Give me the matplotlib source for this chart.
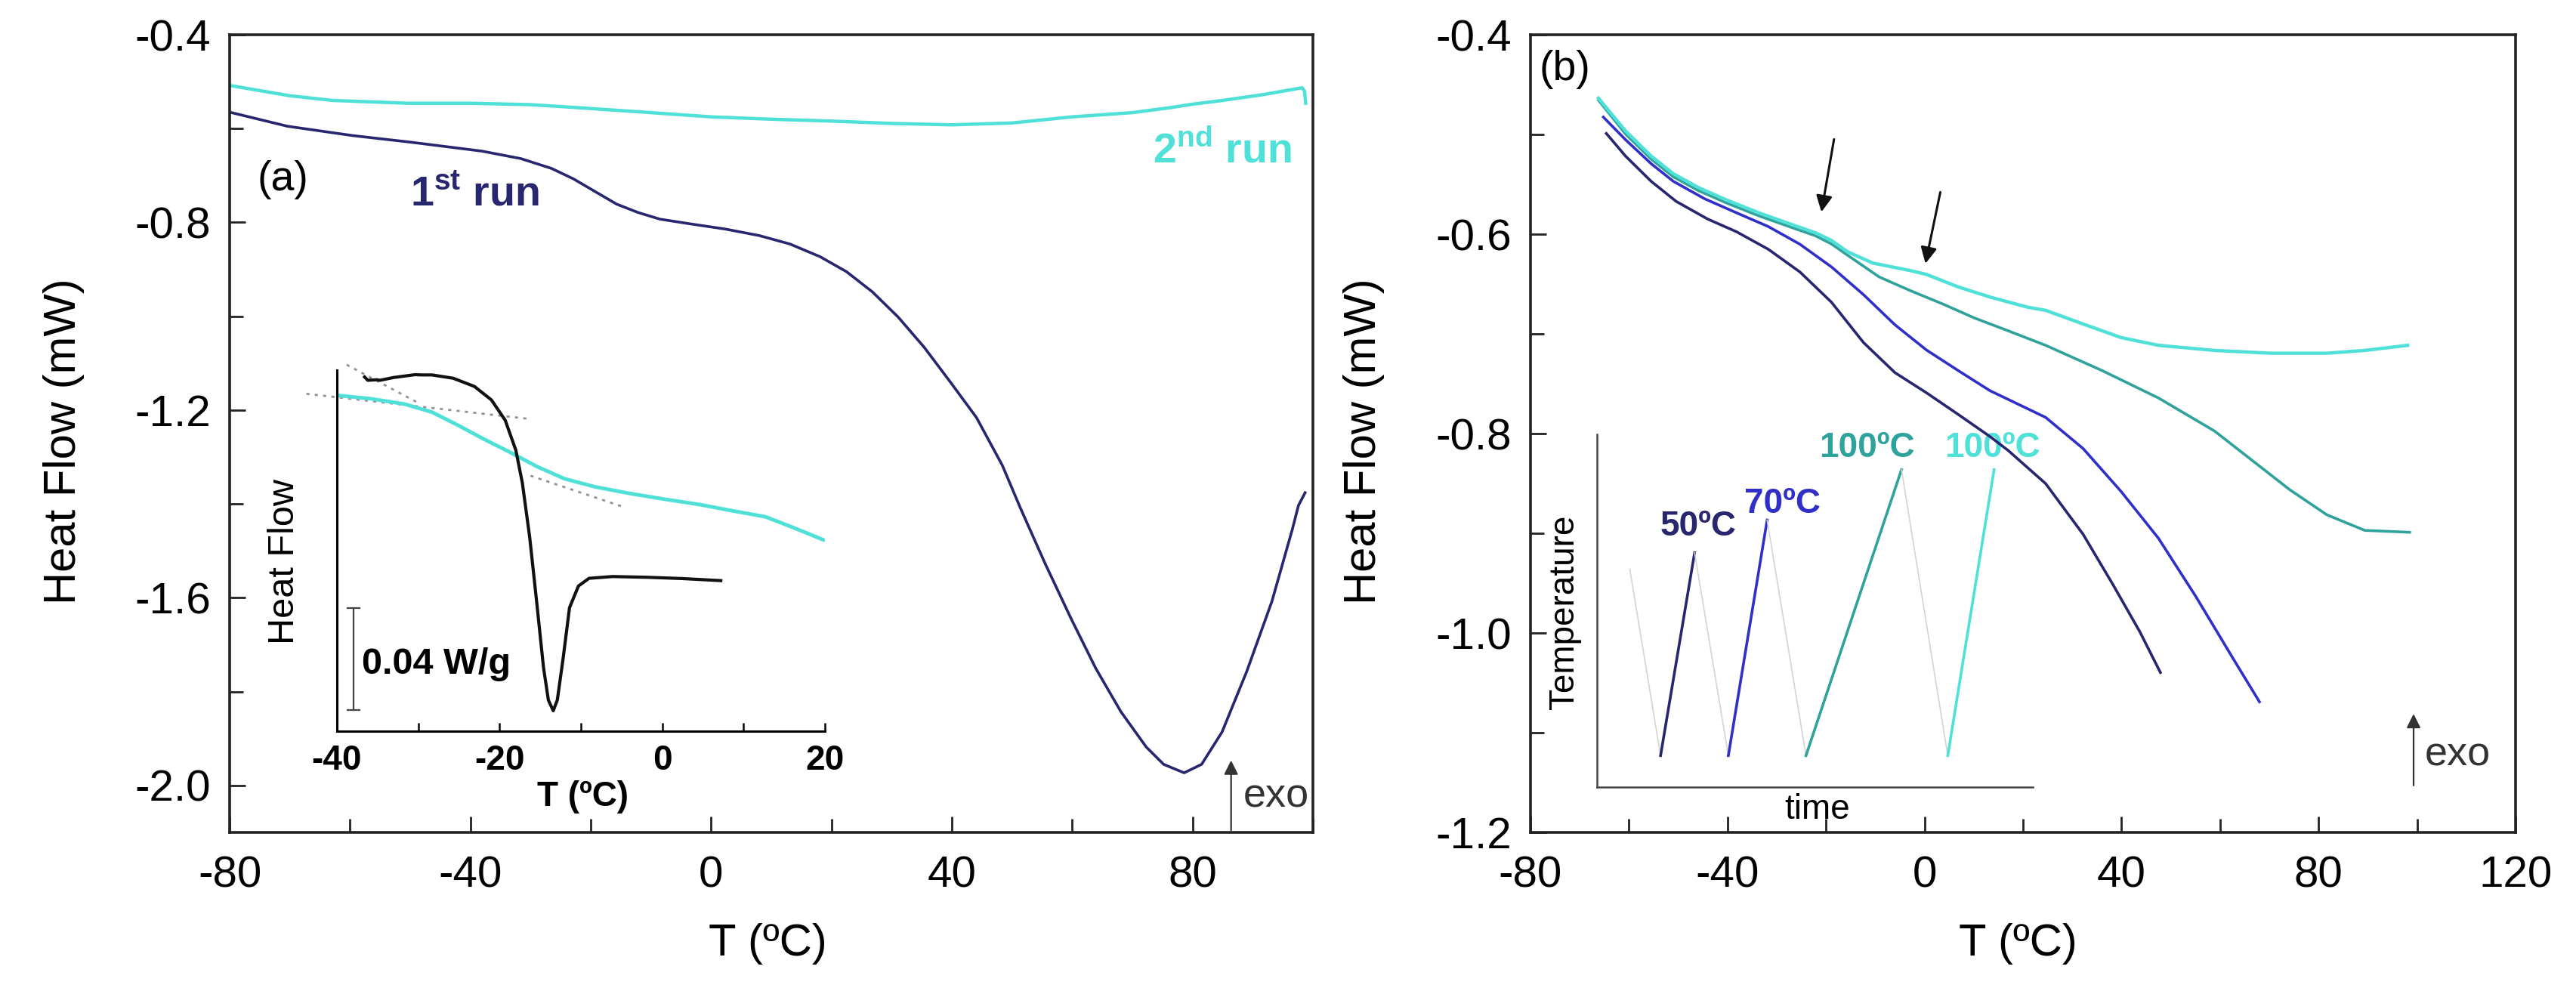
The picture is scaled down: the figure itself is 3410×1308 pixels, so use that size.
import numpy as np
import matplotlib
matplotlib.use("Agg")
import matplotlib.pyplot as plt
from matplotlib.ticker import MultipleLocator, FormatStrFormatter

plt.rcParams['font.family'] = ['Liberation Sans', 'DejaVu Sans']
plt.rcParams['mathtext.fontset'] = 'custom'
plt.rcParams['mathtext.rm'] = 'Liberation Sans'
plt.rcParams['mathtext.bf'] = 'Liberation Sans:bold'
plt.rcParams['axes.unicode_minus'] = False

# colours
NAVY = '#27266f'
BLUE = '#3030c8'
TEAL = '#2fa39b'
CYAN = '#4fe0d8'

# ---- panel (a): 1st / 2nd run ----
run1_T = [-80, -70.4, -59.5, -49.9, -38.1, -31.6, -26.5, -22.9, -19.3, -15.7, -12.1, -8.5,
          -3.5, 2.3, 8.0, 13.1, 18.1, 22.5, 26.8, 31.1, 35.4, 39.8, 44.1, 48.4, 51.4, 55.5,
          59.8, 63.9, 68.1, 72.3, 75.2, 78.6, 81.5, 84.9, 89, 93.2, 96.6, 97.6, 98.7]
run1_hf = [-0.565, -0.595, -0.615, -0.629, -0.648, -0.664, -0.685, -0.707, -0.734, -0.761,
           -0.779, -0.793, -0.803, -0.814, -0.828, -0.846, -0.873, -0.905, -0.948, -1.002,
           -1.066, -1.141, -1.216, -1.318, -1.409, -1.527, -1.644, -1.75, -1.843, -1.918,
           -1.955, -1.973, -1.955, -1.886, -1.757, -1.607, -1.453, -1.403, -1.376]

run2_T = [-80, -70, -62.9, -50.4, -40, -30, -22.6, -10, 0, 10, 20, 30, 40, 50, 60, 70, 76.5,
          80, 85, 92, 98.2, 98.6, 98.8]
run2_hf = [-0.508, -0.53, -0.540, -0.546, -0.546, -0.549, -0.555, -0.566, -0.575, -0.58,
           -0.584, -0.589, -0.592, -0.588, -0.575, -0.566, -0.555, -0.548, -0.54, -0.527,
           -0.513, -0.52, -0.546]

# inset (a): heat flow in W/g (arbitrary offset)
ins_black_T = [-36.6, -36.2, -35.1, -34.7, -33.0, -30.4, -29.5, -28.3, -25.7, -23.1, -21.0,
               -19.3, -18.0, -17.2, -16.3, -15.4, -14.6, -14.0, -13.4, -12.9, -12.2, -11.4,
               -10.3, -9.0, -6.1, -1.8, 2.5, 7.2]
ins_black_hf = [0.1388, 0.1375, 0.1377, 0.1375, 0.1386, 0.1397, 0.1396, 0.1396, 0.1383,
                0.1351, 0.1298, 0.1218, 0.1101, 0.0973, 0.0761, 0.0495, 0.0250, 0.0122,
                0.0080, 0.0122, 0.0282, 0.0484, 0.0569, 0.0599, 0.0606, 0.0603, 0.0598, 0.0590]
ins_cyan_T = [-40, -35.9, -31.7, -28.3, -25.3, -21.9, -18.9, -15.4, -12.0, -8.2, -3.9, 0.3,
              4.6, 8.9, 12.7, 16.1, 19.8]
ins_cyan_hf = [0.1316, 0.1303, 0.1282, 0.1250, 0.1202, 0.1144, 0.1096, 0.1037, 0.0989,
               0.0957, 0.0931, 0.0909, 0.0888, 0.0862, 0.0840, 0.0798, 0.0750]
tangent_T = [[-38.8, -29.8], [-43.75, -16.47], [-16.2, -4.7]]
tangent_hf = [[0.1436, 0.1283], [0.1322, 0.1224], [0.1001, 0.0878]]

# ---- panel (b): heating to 50, 70, 100, 100 ºC ----
b50_T = [-64.6, -60.7, -55.5, -50.4, -44.0, -38.2, -31.7, -25.3, -18.9, -12.4, -6.0, 0.4,
         6.9, 13.3, 17.0, 24.6, 32.2, 38.3, 43.7, 47.9]
b50_hf = [-0.499, -0.5217, -0.547, -0.5672, -0.5849, -0.5975, -0.6152, -0.6379, -0.6682,
          -0.7086, -0.7389, -0.7591, -0.781, -0.803, -0.817, -0.8502, -0.901, -0.9518,
          -0.9986, -1.0397]
b70_T = [-65.2, -60.7, -55.5, -51.0, -44.6, -38.2, -31.7, -25.3, -18.9, -12.4, -6.0, 0.4,
         6.9, 13.3, 20.9, 24.6, 32.2, 39.9, 47.5, 55.1, 62.7, 68.0]
b70_hf = [-0.4826, -0.5053, -0.5293, -0.547, -0.5646, -0.5785, -0.5924, -0.6101, -0.6328,
          -0.6606, -0.6909, -0.7162, -0.737, -0.757, -0.775, -0.7838, -0.815, -0.858,
          -0.905, -0.9635, -1.026, -1.069]
b100a_T = [-66.2, -60.7, -55.5, -51.0, -45.9, -40.1, -33.7, -27.2, -22.1, -18.9, -15.6,
           -9.2, -2.8, 3.7, 10.1, 16.5, 24.6, 36.1, 47.5, 58.9, 66.5, 74.1, 81.7, 89.4, 98.5]
b100a_hf = [-0.4656, -0.4995, -0.5247, -0.5424, -0.5563, -0.5689, -0.5815, -0.5929, -0.6017,
            -0.6098, -0.6212, -0.6429, -0.6568, -0.670, -0.684, -0.696, -0.7115, -0.7369,
            -0.7643, -0.7975, -0.8268, -0.8561, -0.8815, -0.8971, -0.899]
b100b_T = [-66.2, -60.7, -55.5, -51.0, -45.9, -40.1, -33.7, -27.2, -22.1, -18.9, -15.6,
           -10.5, -2.8, 0.4, 6.9, 13.3, 20.9, 24.6, 32.2, 39.9, 47.5, 58.9, 70.3, 81.7,
           89.4, 98.1]
b100b_hf = [-0.4636, -0.4965, -0.5217, -0.5394, -0.5533, -0.5659, -0.5785, -0.5899, -0.5987,
            -0.6063, -0.6177, -0.629, -0.6366, -0.6404, -0.653, -0.6631, -0.6732, -0.6764,
            -0.6901, -0.7037, -0.7115, -0.7166, -0.7194, -0.7194, -0.7166, -0.7115]

# inset (b): temperature programme, axes fractions
ramp_labels = ['50ºC', '70ºC', '100ºC', '100ºC']
ramp_colors = [NAVY, BLUE, TEAL, CYAN]
ramp_t = [[0.1459, 0.2240], [0.3014, 0.3904], [0.4795, 0.6986], [0.8048, 0.9110]]
ramp_T = [[0.0893, 0.6643], [0.0893, 0.7571], [0.0893, 0.90], [0.0893, 0.90]]
cool_t = [[0.0753, 0.1459], [0.2240, 0.3014], [0.3904, 0.4795], [0.6986, 0.8048]]
cool_T = [[0.6179, 0.0893], [0.6643, 0.0893], [0.7571, 0.0893], [0.90, 0.0893]]
label_t = [0.233, 0.4247, 0.62, 0.9075]
label_T = [0.739, 0.8036, 0.9607, 0.9607]

TICK_FS = 42
LAB_FS = 43


def style_main(ax):
    for s in ax.spines.values():
        s.set_linewidth(2.6)
        s.set_color('#222222')
    ax.tick_params(which='both', direction='in', width=2, top=False, right=False,
                   labelsize=TICK_FS, color='#222222')
    ax.tick_params(which='major', length=15)
    ax.tick_params(which='minor', length=13)
    ax.tick_params(axis='x', which='major', pad=22)
    ax.tick_params(axis='y', which='major', pad=18)


fig = plt.figure(figsize=(34.1, 13.08), dpi=100)

# ---------------- panel (a) ----------------
axa = fig.add_axes([0.08915, 0.15749, 0.42053, 0.80734])
axa.plot(run2_T, run2_hf, color=CYAN, lw=3.2)
axa.plot(run1_T, run1_hf, color=NAVY, lw=2.6)
axa.set_xlim(-80, 100)
axa.set_ylim(-2.1, -0.4)
axa.xaxis.set_major_locator(MultipleLocator(40))
axa.xaxis.set_minor_locator(MultipleLocator(20))
axa.set_yticks([-2.0, -1.6, -1.2, -0.8, -0.4])
axa.set_yticks([-1.8, -1.4, -1.0, -0.6], minor=True)
axa.yaxis.set_major_formatter(FormatStrFormatter('%.1f'))
style_main(axa)
axa.set_xlabel('T (ºC)', fontsize=LAB_FS)
axa.set_ylabel('Heat Flow (mW)', fontsize=LAB_FS)
axa.xaxis.set_label_coords(0.4965, -0.114)
axa.yaxis.set_label_coords(-0.134, 0.49)

axa.text(-71.1, -0.709, '(a)', fontsize=40, ha='center', va='center')
axa.text(-50, -0.742, r'1$^{\mathbf{st}}$ run', fontsize=40, fontweight='bold',
         color=NAVY, ha='left', va='center')
axa.text(96.5, -0.648, r'2$^{\mathbf{nd}}$ run', fontsize=40, fontweight='bold',
         color=CYAN, ha='right', va='center')
axa.annotate('', xy=(86.4, -1.942), xytext=(86.4, -2.1),
             arrowprops=dict(arrowstyle='-|>', color='#333333', lw=1.6, mutation_scale=28))
axa.text(88.4, -2.024, 'exo', fontsize=39, ha='left', va='center', color='#333333')

# inset (a)
ia = axa.inset_axes([0.099, 0.1269, 0.4505, 0.4527])
ia.patch.set_alpha(0)
for k in range(len(tangent_T)):
    ia.plot(tangent_T[k], tangent_hf[k], ls=(0, (1.5, 2.5)), color='#9a8f95', lw=2,
            clip_on=False)
ia.plot(ins_cyan_T, ins_cyan_hf, color=CYAN, lw=3.5)
ia.plot(ins_black_T, ins_black_hf, color='#111111', lw=3)
ia.set_xlim(-40, 20)
ia.set_ylim(0, 0.1415)
ia.spines['top'].set_visible(False)
ia.spines['right'].set_visible(False)
for s in ['left', 'bottom']:
    ia.spines[s].set_linewidth(2.2)
ia.set_yticks([])
ia.xaxis.set_major_locator(MultipleLocator(20))
ia.xaxis.set_minor_locator(MultipleLocator(10))
ia.tick_params(axis='x', which='both', direction='in', length=8, width=1.8, pad=12,
               labelsize=33)
for lab in ia.get_xticklabels():
    lab.set_fontweight('bold')
ia.set_xlabel('T (ºC)', fontsize=33, fontweight='bold')
ia.xaxis.set_label_coords(0.5046, -0.136)
ia.set_ylabel('Heat Flow', fontsize=35)
ia.yaxis.set_label_coords(-0.073, 0.47)
# scale bar 0.04 W/g
ia.plot([-37.95, -37.95], [0.0083, 0.0483], color='#444444', lw=1.6)
ia.plot([-38.7, -37.2], [0.0083, 0.0083], color='#444444', lw=1.6)
ia.plot([-38.7, -37.2], [0.0483, 0.0483], color='#444444', lw=1.6)
ia.text(-36.9, 0.0261, '0.04 W/g', fontsize=35, fontweight='bold', ha='left', va='center')

# ---------------- panel (b) ----------------
axb = fig.add_axes([0.59413, 0.15749, 0.38240, 0.80734])
axb.plot(b50_T, b50_hf, color=NAVY, lw=2.6, zorder=3)
axb.plot(b70_T, b70_hf, color=BLUE, lw=2.6, zorder=3)
axb.plot(b100a_T, b100a_hf, color=TEAL, lw=2.6, zorder=3)
axb.plot(b100b_T, b100b_hf, color=CYAN, lw=3.2, zorder=3)
axb.set_xlim(-80, 120)
axb.set_ylim(-1.2, -0.4)
axb.xaxis.set_major_locator(MultipleLocator(40))
axb.xaxis.set_minor_locator(MultipleLocator(20))
axb.yaxis.set_major_locator(MultipleLocator(0.2))
axb.yaxis.set_minor_locator(MultipleLocator(0.1))
axb.yaxis.set_major_formatter(FormatStrFormatter('%.1f'))
style_main(axb)
axb.set_xlabel('T (ºC)', fontsize=LAB_FS)
axb.set_ylabel('Heat Flow (mW)', fontsize=LAB_FS)
axb.xaxis.set_label_coords(0.495, -0.114)
axb.yaxis.set_label_coords(-0.148, 0.49)

axb.text(-73.1, -0.435, '(b)', fontsize=40, ha='center', va='center')
for tip, tail in [((-21.0, -0.5798), (-18.3, -0.5028)), ((0.1, -0.6316), (3.3, -0.5558))]:
    axb.annotate('', xy=tip, xytext=tail,
                 arrowprops=dict(arrowstyle='-|>', color='#111111', lw=2.2, mutation_scale=32))
axb.annotate('', xy=(99.3, -1.079), xytext=(99.3, -1.155),
             arrowprops=dict(arrowstyle='-|>', color='#333333', lw=1.6, mutation_scale=28))
axb.text(101.5, -1.122, 'exo', fontsize=39, ha='left', va='center', color='#333333')

# inset (b), drawn behind the curves
ib = axb.inset_axes([0.0675, 0.0568, 0.4425, 0.4422], zorder=1)
ib.patch.set_alpha(0)
ib.set_xlim(0, 1)
ib.set_ylim(0, 1)
for k in range(4):
    ib.plot(cool_t[k], cool_T[k], color='#d4d4d4', lw=1.2)
    ib.plot(ramp_t[k], ramp_T[k], color=ramp_colors[k], lw=2.6)
    ib.text(label_t[k], label_T[k], ramp_labels[k], color=ramp_colors[k], fontsize=33,
            fontweight='bold', ha='center', va='center')
ib.spines['top'].set_visible(False)
ib.spines['right'].set_visible(False)
for s in ['left', 'bottom']:
    ib.spines[s].set_linewidth(1.8)
    ib.spines[s].set_color('#444444')
ib.set_xticks([])
ib.set_yticks([])
ib.set_xlabel('time', fontsize=33)
ib.xaxis.set_label_coords(0.506, -0.017)
ib.set_ylabel('Temperature', fontsize=33)
ib.yaxis.set_label_coords(-0.036, 0.497)

fig.savefig('out.png', dpi=100)
